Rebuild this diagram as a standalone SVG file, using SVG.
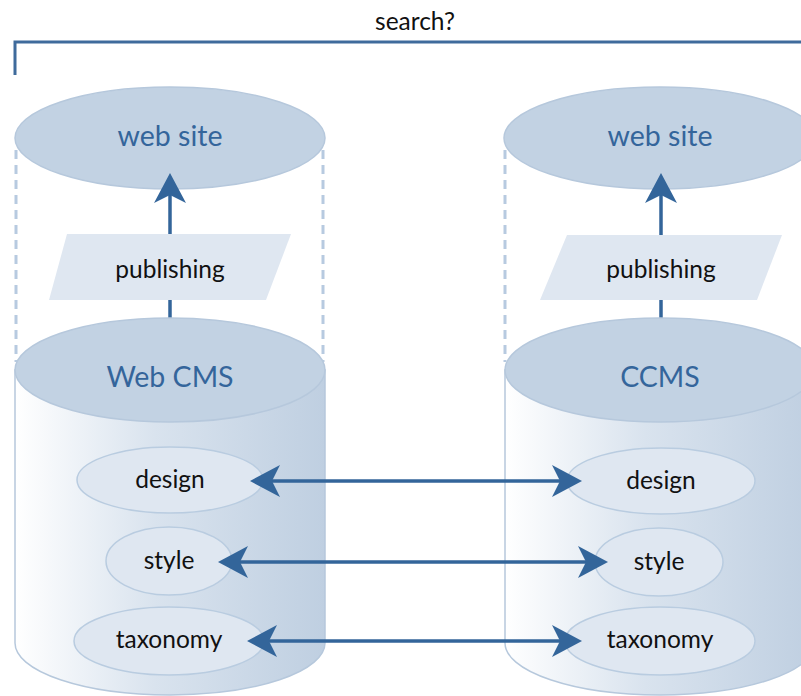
<svg xmlns="http://www.w3.org/2000/svg" width="801" height="696" viewBox="0 0 801 696">
<style>
.lbl{font-family:"Lato","Open Sans","Liberation Sans",sans-serif;fill:#111;text-anchor:middle;font-size:24.5px}
.big{font-family:"Lato","Open Sans","Liberation Sans",sans-serif;fill:#34659b;text-anchor:middle;font-size:28.5px}
.top{fill:#c2d2e3;stroke:#b6c8dc;stroke-width:1.5}
.inner{fill:#dfe7f1;stroke:#b9cce0;stroke-width:1.5}
.para{fill:#dfe7f1}
.dash{stroke:#b7cae0;stroke-width:3;stroke-dasharray:9 6;fill:none}
.conn{stroke:#33659a;stroke-width:3.5;fill:none}
.body{fill:url(#g);stroke:#b6c8dc;stroke-width:1.5}
</style>
<defs>
<linearGradient id="g" x1="0" y1="0" x2="1" y2="0">
<stop offset="0" stop-color="#ffffff"/>
<stop offset="0.45" stop-color="#d9e3ee"/>
<stop offset="1" stop-color="#bfcfe1"/>
</linearGradient>
<marker id="ah" viewBox="0 0 30 32" refX="8" refY="16" markerWidth="30" markerHeight="32" markerUnits="userSpaceOnUse" orient="auto-start-reverse">
<path d="M30,16 L0,0 L8,16 L0,32 Z" fill="#33659a"/>
</marker>
</defs>

<g id="search">
<path d="M15,75 V42 H801" fill="none" stroke="#3f6b9c" stroke-width="3"/>
<text class="lbl" x="415" y="30" font-size="24">search?</text>
</g>

<g id="dashes">
<line class="dash" x1="16" y1="150" x2="16" y2="362"/>
<line class="dash" x1="323" y1="150" x2="323" y2="362"/>
<line class="dash" x1="505" y1="150" x2="505" y2="362"/>
</g>

<g id="website-left">
<ellipse class="top" cx="170" cy="138" rx="155" ry="51"/>
<text class="big" x="170" y="146">web site</text>
</g>
<g id="website-right">
<ellipse class="top" cx="660" cy="138" rx="156" ry="51"/>
<text class="big" x="660" y="146">web site</text>
</g>

<g id="connectors">
<line class="conn" x1="170" y1="343" x2="170" y2="195" marker-end="url(#ah)"/>
<line class="conn" x1="661" y1="343" x2="661" y2="195" marker-end="url(#ah)"/>
</g>

<g id="publishing-left">
<polygon class="para" points="67,234 291,234 266,300 49,300"/>
<text class="lbl" x="170" y="278">publishing</text>
</g>
<g id="publishing-right">
<polygon class="para" points="567,235 782,235 757,300 540,300"/>
<text class="lbl" x="661" y="278">publishing</text>
</g>

<g id="webcms">
<path class="body" d="M15,370 V643 A155,52 0 0 0 325,643 V370 Z"/>
<ellipse class="top" cx="170" cy="370" rx="155" ry="52"/>
<text class="big" x="170" y="387">Web CMS</text>
</g>
<g id="ccms">
<path class="body" d="M505,370 V643 A155,52 0 0 0 815,643 V370 Z"/>
<ellipse class="top" cx="660" cy="370" rx="155" ry="52"/>
<text class="big" x="660" y="387">CCMS</text>
</g>

<g id="design-left"><ellipse class="inner" cx="170" cy="480" rx="93" ry="33"/><text class="lbl" x="170" y="488">design</text></g>
<g id="style-left"><ellipse class="inner" cx="169" cy="561" rx="63" ry="34"/><text class="lbl" x="169" y="569">style</text></g>
<g id="taxonomy-left"><ellipse class="inner" cx="169" cy="641" rx="95" ry="34"/><text class="lbl" x="169" y="648">taxonomy</text></g>
<g id="design-right"><ellipse class="inner" cx="661" cy="481" rx="94" ry="33"/><text class="lbl" x="661" y="489">design</text></g>
<g id="style-right"><ellipse class="inner" cx="659" cy="562" rx="64" ry="34"/><text class="lbl" x="659" y="570">style</text></g>
<g id="taxonomy-right"><ellipse class="inner" cx="660" cy="641" rx="95" ry="34"/><text class="lbl" x="660" y="648">taxonomy</text></g>

<g id="sync-connectors">
<line class="conn" x1="272" y1="481" x2="560" y2="481" marker-start="url(#ah)" marker-end="url(#ah)"/>
<line class="conn" x1="240" y1="562" x2="586" y2="562" marker-start="url(#ah)" marker-end="url(#ah)"/>
<line class="conn" x1="269" y1="641" x2="560" y2="641" marker-start="url(#ah)" marker-end="url(#ah)"/>
</g>
</svg>
